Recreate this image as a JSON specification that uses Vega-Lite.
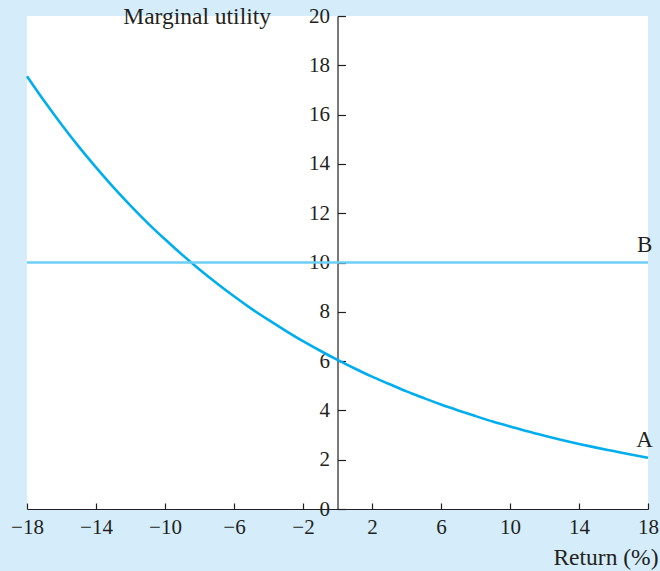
{
  "$schema": "https://vega.github.io/schema/vega-lite/v6.json",
  "width": 621,
  "height": 493,
  "autosize": {"type": "none"},
  "padding": {"left": 27, "top": 16, "right": 12, "bottom": 62},
  "background": "#d5edfa",
  "config": {
    "view": {"fill": "white", "stroke": null},
    "font": "Liberation Serif",
    "axis": {
      "grid": false,
      "domainColor": "#231f20",
      "domainWidth": 1.2,
      "tickColor": "#231f20",
      "tickWidth": 1.2,
      "labelColor": "#231f20",
      "titleColor": "#231f20",
      "labelFont": "Liberation Serif",
      "titleFont": "Liberation Serif",
      "labelFontSize": 21,
      "titleFontSize": 23.5,
      "titleFontWeight": "normal",
      "labelFlush": false,
      "labelOverlap": false,
      "labelBound": false
    }
  },
  "datasets": {
    "curves": [
      {"x": -18, "y": 17.56, "series": "A"},
      {"x": -17, "y": 16.55, "series": "A"},
      {"x": -16, "y": 15.60, "series": "A"},
      {"x": -15, "y": 14.70, "series": "A"},
      {"x": -14, "y": 13.86, "series": "A"},
      {"x": -13, "y": 13.06, "series": "A"},
      {"x": -12, "y": 12.31, "series": "A"},
      {"x": -11, "y": 11.60, "series": "A"},
      {"x": -10, "y": 10.94, "series": "A"},
      {"x": -9, "y": 10.31, "series": "A"},
      {"x": -8, "y": 9.72, "series": "A"},
      {"x": -7, "y": 9.16, "series": "A"},
      {"x": -6, "y": 8.63, "series": "A"},
      {"x": -5, "y": 8.13, "series": "A"},
      {"x": -4, "y": 7.67, "series": "A"},
      {"x": -3, "y": 7.23, "series": "A"},
      {"x": -2, "y": 6.81, "series": "A"},
      {"x": -1, "y": 6.42, "series": "A"},
      {"x": 0, "y": 6.05, "series": "A"},
      {"x": 1, "y": 5.70, "series": "A"},
      {"x": 2, "y": 5.37, "series": "A"},
      {"x": 3, "y": 5.07, "series": "A"},
      {"x": 4, "y": 4.77, "series": "A"},
      {"x": 5, "y": 4.50, "series": "A"},
      {"x": 6, "y": 4.24, "series": "A"},
      {"x": 7, "y": 4.00, "series": "A"},
      {"x": 8, "y": 3.77, "series": "A"},
      {"x": 9, "y": 3.55, "series": "A"},
      {"x": 10, "y": 3.35, "series": "A"},
      {"x": 11, "y": 3.15, "series": "A"},
      {"x": 12, "y": 2.97, "series": "A"},
      {"x": 13, "y": 2.80, "series": "A"},
      {"x": 14, "y": 2.64, "series": "A"},
      {"x": 15, "y": 2.49, "series": "A"},
      {"x": 16, "y": 2.35, "series": "A"},
      {"x": 17, "y": 2.21, "series": "A"},
      {"x": 18, "y": 2.08, "series": "A"},
      {"x": -18, "y": 10, "series": "B"},
      {"x": 18, "y": 10, "series": "B"}
    ],
    "labels": [
      {"x": 17.8, "y": 2.08, "label": "A"},
      {"x": 17.8, "y": 10, "label": "B"}
    ]
  },
  "layer": [
    {
      "data": {"name": "curves"},
      "mark": {"type": "line", "strokeWidth": 2.6, "interpolate": "monotone"},
      "encoding": {
        "x": {
          "field": "x",
          "type": "quantitative",
          "scale": {"domain": [-18, 18], "nice": false, "zero": false},
          "axis": {
            "values": [-18, -14, -10, -6, -2, 2, 6, 10, 14, 18],
            "tickSize": -6,
            "labelPadding": 13,
            "title": "Return (%)",
            "titleAnchor": null,
            "titleAlign": "right",
            "titleBaseline": "alphabetic",
            "titleX": 631,
            "titleY": 55
          }
        },
        "y": {
          "field": "y",
          "type": "quantitative",
          "scale": {"domain": [0, 20], "nice": false},
          "axis": {
            "values": [0, 2, 4, 6, 8, 10, 12, 14, 16, 18, 20],
            "offset": -310.5,
            "tickSize": -8,
            "labelPadding": 16,
            "title": "Marginal utility",
            "titleAngle": 0,
            "titleAnchor": null,
            "titleAlign": "right",
            "titleBaseline": "alphabetic",
            "titleX": -67,
            "titleY": 7.5
          }
        },
        "color": {
          "field": "series",
          "type": "nominal",
          "scale": {"domain": ["A", "B"], "range": ["#00aeef", "#6dcff6"]},
          "legend": null
        },
        "detail": {"field": "series"}
      }
    },
    {
      "data": {"name": "labels"},
      "mark": {"type": "text", "font": "Liberation Serif", "fontSize": 23, "color": "#231f20", "baseline": "alphabetic", "align": "center", "dy": -10.5},
      "encoding": {
        "x": {"field": "x", "type": "quantitative"},
        "y": {"field": "y", "type": "quantitative"},
        "text": {"field": "label"}
      }
    }
  ]
}
